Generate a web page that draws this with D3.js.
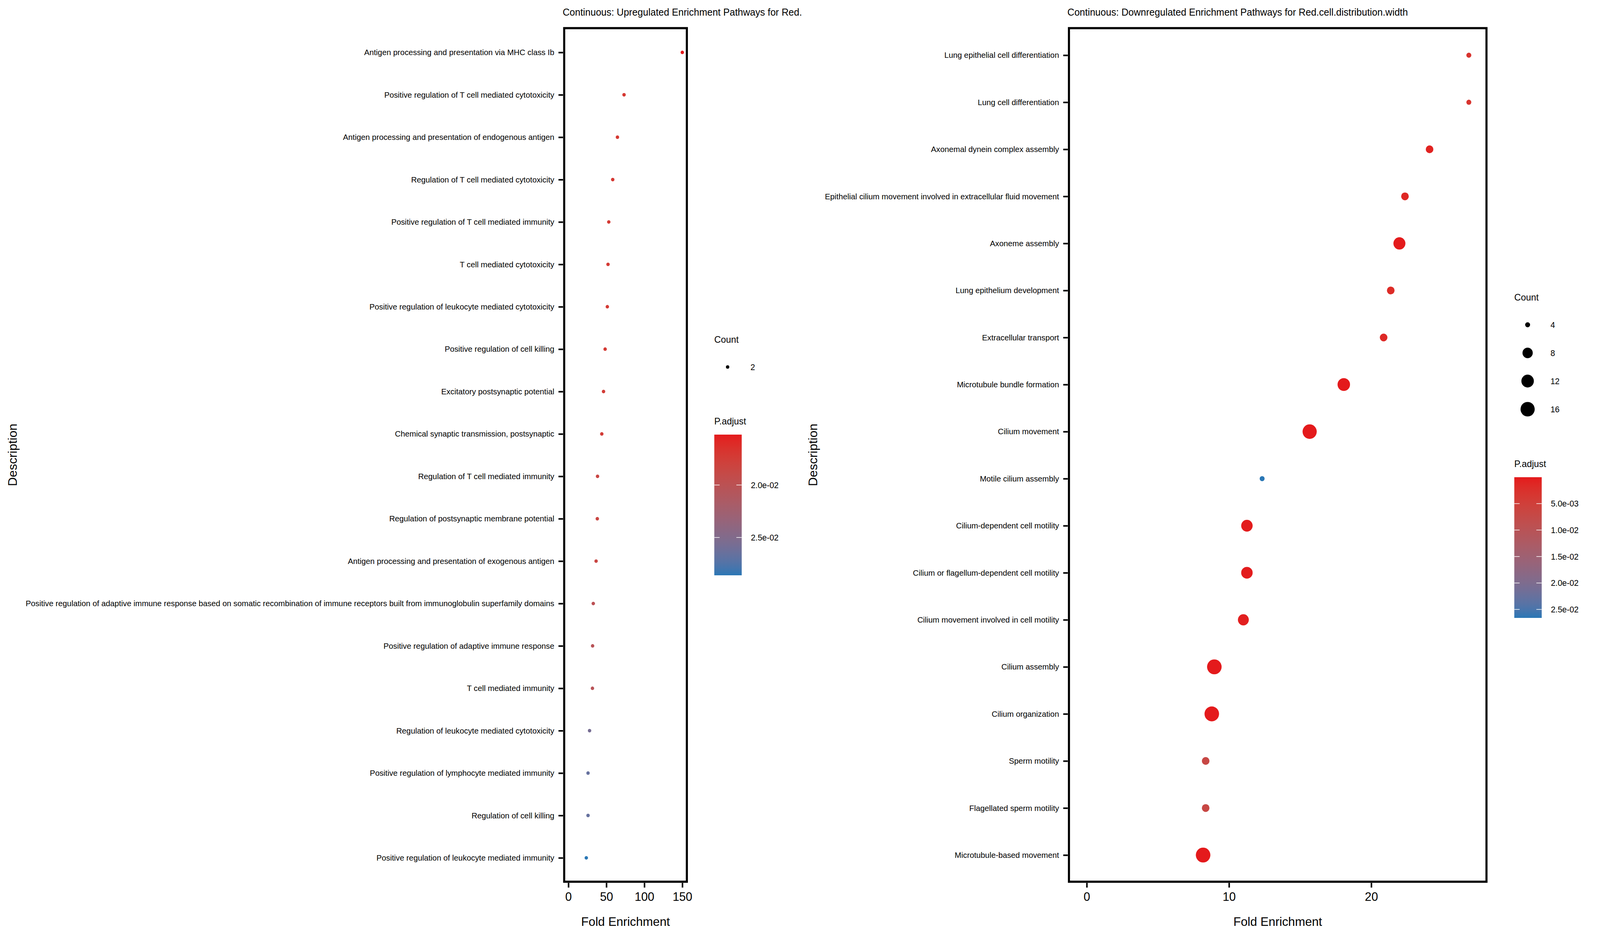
<!DOCTYPE html>
<html>
<head>
<meta charset="utf-8">
<script src="https://cdn.jsdelivr.net/npm/d3@7"></script>
<style>
  html, body { margin: 0; padding: 0; background: #fff; overflow: hidden; }
  svg { display: block; }
  text { font-family: "Liberation Sans", Arial, Helvetica, sans-serif; fill: #000; }
</style>
</head>
<body>
<svg viewBox="0 0 4200 2400" preserveAspectRatio="none"></svg>
<script>
// --- data: upregulated (left panel), top to bottom
var upTerms = [
  "Antigen processing and presentation via MHC class Ib",
  "Positive regulation of T cell mediated cytotoxicity",
  "Antigen processing and presentation of endogenous antigen",
  "Regulation of T cell mediated cytotoxicity",
  "Positive regulation of T cell mediated immunity",
  "T cell mediated cytotoxicity",
  "Positive regulation of leukocyte mediated cytotoxicity",
  "Positive regulation of cell killing",
  "Excitatory postsynaptic potential",
  "Chemical synaptic transmission, postsynaptic",
  "Regulation of T cell mediated immunity",
  "Regulation of postsynaptic membrane potential",
  "Antigen processing and presentation of exogenous antigen",
  "Positive regulation of adaptive immune response based on somatic recombination of immune receptors built from immunoglobulin superfamily domains",
  "Positive regulation of adaptive immune response",
  "T cell mediated immunity",
  "Regulation of leukocyte mediated cytotoxicity",
  "Positive regulation of lymphocyte mediated immunity",
  "Regulation of cell killing",
  "Positive regulation of leukocyte mediated immunity"
];
var upFold = [150, 73.3, 64.6, 58.4, 53.2, 52.2, 51.3, 48.4, 46.3, 44.0,
              38.4, 38.1, 36.5, 32.8, 31.9, 31.7, 27.9, 25.9, 25.9, 23.6];
var upCount = [2, 2, 2, 2, 2, 2, 2, 2, 2, 2, 2, 2, 2, 2, 2, 2, 2, 2, 2, 2];
var upPadj = [0.0152, 0.0170, 0.0170, 0.0170, 0.0172, 0.0172, 0.0172, 0.0172, 0.0174, 0.0174,
              0.0185, 0.0185, 0.0185, 0.0200, 0.0203, 0.0203, 0.0257, 0.0266, 0.0266, 0.0286];

// --- data: downregulated (right panel), top to bottom
var downTerms = [
  "Lung epithelial cell differentiation",
  "Lung cell differentiation",
  "Axonemal dynein complex assembly",
  "Epithelial cilium movement involved in extracellular fluid movement",
  "Axoneme assembly",
  "Lung epithelium development",
  "Extracellular transport",
  "Microtubule bundle formation",
  "Cilium movement",
  "Motile cilium assembly",
  "Cilium-dependent cell motility",
  "Cilium or flagellum-dependent cell motility",
  "Cilium movement involved in cell motility",
  "Cilium assembly",
  "Cilium organization",
  "Sperm motility",
  "Flagellated sperm motility",
  "Microtubule-based movement"
];
var downFold = [26.86, 26.86, 24.1, 22.37, 21.98, 21.37, 20.87, 18.07, 15.67,
                12.33, 11.26, 11.26, 11.01, 8.97, 8.79, 8.36, 8.36, 8.18];
var downCount = [4, 4, 5, 5, 11, 5, 5, 12, 16, 4, 10, 10, 9, 17, 17, 5, 5, 17];
var downPadj = [0.0030, 0.0030, 0.0008, 0.0012, 0.00005, 0.0018, 0.0015, 0.00003, 0.00001,
                0.0266, 0.0002, 0.0002, 0.0004, 0.00001, 0.00001, 0.0068, 0.0068, 0.00001];

// tick values
var upXTicks = [0, 50, 100, 150];
var downXTicks = [0, 10, 20];
var upCountBreaks = [2];
var downCountBreaks = [4, 8, 12, 16];
var upPBreaks = [0.020, 0.025];
var downPBreaks = [0.005, 0.010, 0.015, 0.020, 0.025];

var lowColor = "#E41A1C";
var highColor = "#2A77B5";

// fit the 4200x2400 drawing to whatever the viewport really is
var svg = d3.select("svg")
    .attr("width", window.innerWidth)
    .attr("height", window.innerHeight);

function fmtP(v) {
  // 2.0e-02 style
  return d3.format(".1e")(v).replace(/e([+-])(\d)$/, "e$10$2");
}

function drawPanel(o) {
  var rows = o.terms.map(function(t, i) {
    return {term: t, fold: o.fold[i], count: o.count[i], p: o.padj[i]};
  });

  var x = d3.scaleLinear().domain(o.xDomain).range([o.left, o.right]);
  var y = d3.scalePoint().domain(o.terms).range([69, 2260]).padding(0.6);

  var pExt = d3.extent(o.padj);
  var color = d3.scaleLinear().domain(pExt).range([lowColor, highColor])
      .interpolate(d3.interpolateLab);

  var cExt = d3.extent(o.count);
  var size = d3.scaleSqrt().domain([0, cExt[1] - cExt[0]]).range(o.rRange);
  function radius(c) {
    return cExt[0] === cExt[1] ? o.rRange[0] : size(c - cExt[0]);
  }

  // title
  svg.append("text")
      .attr("x", o.left - 4)
      .attr("y", 40)
      .attr("font-size", 25.3)
      .text(o.title);

  // points
  svg.append("g").selectAll("circle")
      .data(rows)
      .enter().append("circle")
      .attr("cx", function(d) { return x(d.fold); })
      .attr("cy", function(d) { return y(d.term); })
      .attr("r", function(d) { return radius(d.count); })
      .attr("fill", function(d) { return color(d.p); });

  // panel border
  svg.append("rect")
      .attr("x", o.left)
      .attr("y", 72)
      .attr("width", o.right - o.left)
      .attr("height", 2256 - 72)
      .attr("fill", "none")
      .attr("stroke", "#000")
      .attr("stroke-width", 5.5);

  // y axis
  var yAxis = svg.append("g")
      .attr("transform", "translate(" + (o.left - 3) + ",0)")
      .call(d3.axisLeft(y).tickSize(12).tickPadding(11));
  yAxis.select(".domain").remove();
  yAxis.selectAll(".tick line").attr("stroke", "#000").attr("stroke-width", 4);
  yAxis.selectAll(".tick text")
      .attr("font-size", 20.8)
      .attr("font-family", "Liberation Sans, Arial, sans-serif")
      .attr("fill", "#000");

  // x axis
  var xAxis = svg.append("g")
      .attr("transform", "translate(0," + 2259 + ")")
      .call(d3.axisBottom(x).tickValues(o.xTicks).tickSize(12).tickPadding(12));
  xAxis.select(".domain").remove();
  xAxis.selectAll(".tick line").attr("stroke", "#000").attr("stroke-width", 4);
  xAxis.selectAll(".tick text")
      .attr("font-size", 31)
      .attr("font-family", "Liberation Sans, Arial, sans-serif")
      .attr("fill", "#000");

  // axis titles
  svg.append("text")
      .attr("x", (o.left + o.right) / 2)
      .attr("y", 2369)
      .attr("text-anchor", "middle")
      .attr("font-size", 32)
      .text("Fold Enrichment");

  svg.append("text")
      .attr("transform", "translate(" + o.yTitleX + ",1164) rotate(-90)")
      .attr("text-anchor", "middle")
      .attr("font-size", 32)
      .text("Description");

  // legend: Count
  var lx = o.legendX;
  svg.append("text")
      .attr("x", lx)
      .attr("y", o.countTitleY)
      .attr("font-size", 24)
      .text("Count");

  var cl = svg.append("g").selectAll("g")
      .data(o.countBreaks)
      .enter().append("g")
      .attr("transform", function(d, i) {
        return "translate(0," + (o.countTitleY + 62 + i * 72) + ")";
      });
  cl.append("circle")
      .attr("cx", lx + 35)
      .attr("cy", 0)
      .attr("r", function(d) { return radius(d); })
      .attr("fill", "#000");
  cl.append("text")
      .attr("x", lx + 95)
      .attr("y", 0)
      .attr("dy", "0.36em")
      .attr("font-size", 21.5)
      .text(function(d) { return d; });

  // legend: P.adjust colour bar
  var barTop = o.pTitleY + 26;
  var barH = 360;
  svg.append("text")
      .attr("x", lx)
      .attr("y", o.pTitleY)
      .attr("font-size", 24)
      .text("P.adjust");

  var gid = "grad" + o.id;
  var grad = svg.append("defs").append("linearGradient")
      .attr("id", gid)
      .attr("x1", 0).attr("y1", 0).attr("x2", 0).attr("y2", 1);
  grad.selectAll("stop")
      .data(d3.range(0, 1.0001, 0.05))
      .enter().append("stop")
      .attr("offset", function(t) { return t; })
      .attr("stop-color", function(t) {
        return color(pExt[0] + t * (pExt[1] - pExt[0]));
      });

  var barY = d3.scaleLinear().domain(pExt).range([barTop, barTop + barH]);

  svg.append("rect")
      .attr("x", lx)
      .attr("y", barTop)
      .attr("width", 72)
      .attr("height", barH)
      .attr("fill", "url(#" + gid + ")");

  var pb = svg.append("g").selectAll("g")
      .data(o.pBreaks)
      .enter().append("g")
      .attr("transform", function(d) { return "translate(0," + barY(d) + ")"; });
  pb.append("line")
      .attr("x1", lx).attr("x2", lx + 14)
      .attr("stroke", "#fff").attr("stroke-width", 1.5);
  pb.append("line")
      .attr("x1", lx + 58).attr("x2", lx + 72)
      .attr("stroke", "#fff").attr("stroke-width", 1.5);
  pb.append("text")
      .attr("x", lx + 96)
      .attr("dy", "0.36em")
      .attr("font-size", 21.5)
      .text(function(d) { return fmtP(d); });
}

drawPanel({
  id: "up",
  title: "Continuous: Upregulated Enrichment Pathways for Red.",
  terms: upTerms, fold: upFold, count: upCount, padj: upPadj,
  xDomain: [-5.5, 156], xTicks: upXTicks,
  left: 1481, right: 1803,
  rRange: [4.5, 4.5],
  yTitleX: 44,
  legendX: 1875, countTitleY: 877, pTitleY: 1086,
  countBreaks: upCountBreaks, pBreaks: upPBreaks
});

drawPanel({
  id: "down",
  title: "Continuous: Downregulated Enrichment Pathways for Red.cell.distribution.width",
  terms: downTerms, fold: downFold, count: downCount, padj: downPadj,
  xDomain: [-1.25, 28.1], xTicks: downXTicks,
  left: 2806, right: 3902,
  rRange: [6.5, 19.1],
  yTitleX: 2145,
  legendX: 3975, countTitleY: 769, pTitleY: 1195,
  countBreaks: downCountBreaks, pBreaks: downPBreaks
});
</script>
</body>
</html>
